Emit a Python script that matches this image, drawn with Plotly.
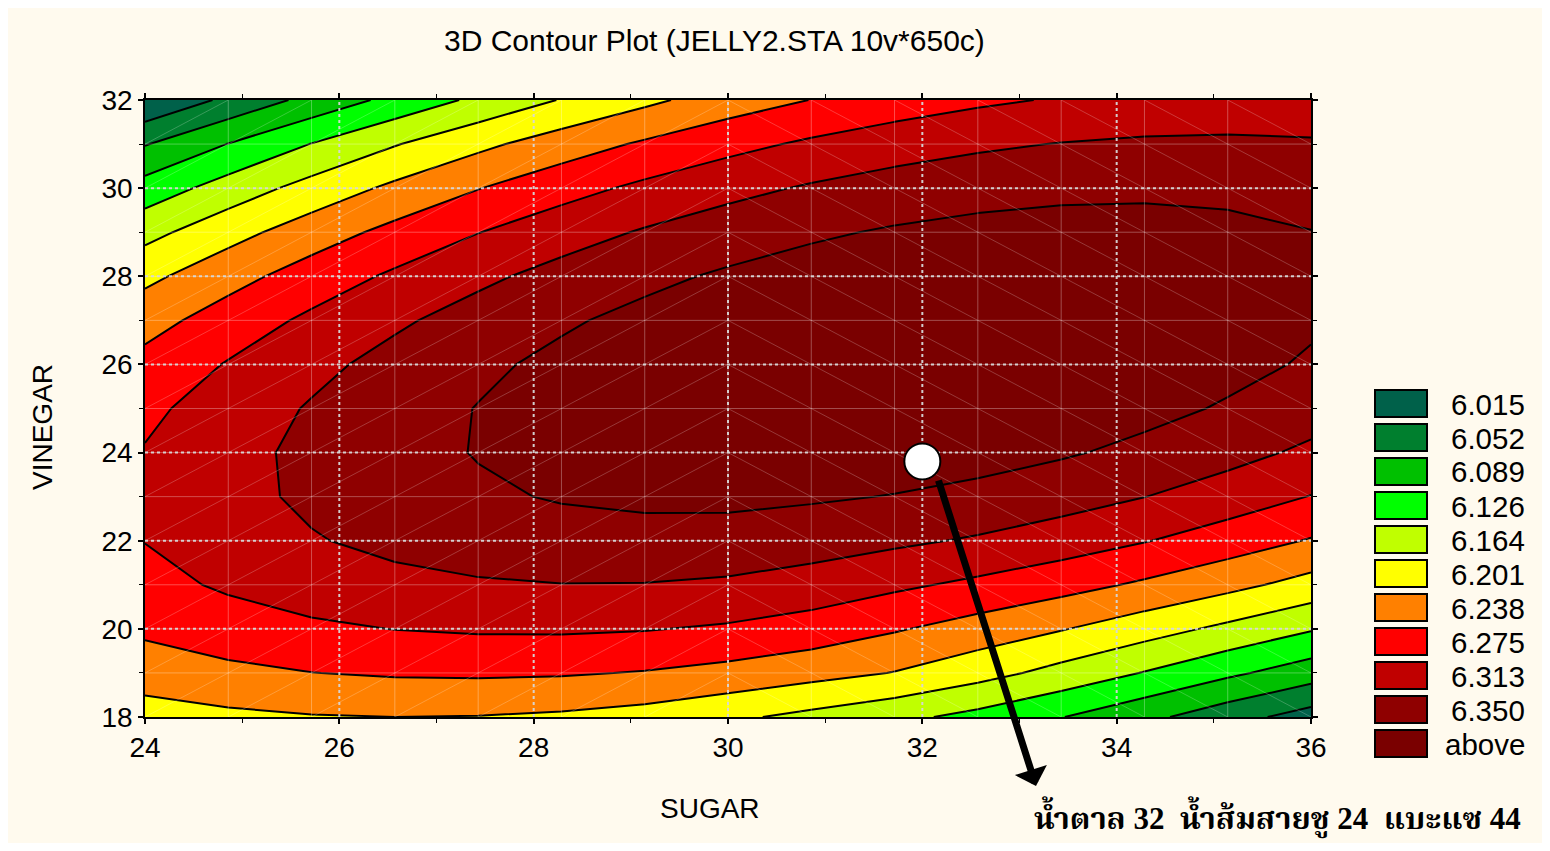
import plotly.graph_objects as go

# ---------------- data ----------------
sugar = [24, 24.857, 25.714, 26.571, 27.429, 28.286, 29.143, 30,
         30.857, 31.714, 32.571, 33.429, 34.286, 35.143, 36]
vinegar = [18, 19, 20, 21, 22, 23, 24, 25, 26, 27, 28, 29, 30, 31, 32]

# response (rows = vinegar 18..32, columns = sugar grid)
z_rows = [
    [6.1848, 6.1935, 6.1990, 6.2012, 6.2000, 6.1956, 6.1870, 6.1710, 6.1544, 6.1367, 6.1158, 6.0909, 6.0623, 6.0301, 5.9990],
    [6.2188, 6.2300, 6.2380, 6.2425, 6.2438, 6.2419, 6.2365, 6.2270, 6.2140, 6.2000, 6.1780, 6.1520, 6.1250, 6.0970, 6.0700],
    [6.2454, 6.2591, 6.2695, 6.2765, 6.2802, 6.2807, 6.2778, 6.2710, 6.2600, 6.2420, 6.2230, 6.2035, 6.1800, 6.1555, 6.1300],
    [6.2647, 6.2808, 6.2936, 6.3031, 6.3092, 6.3122, 6.3117, 6.3075, 6.2970, 6.2827, 6.2680, 6.2520, 6.2330, 6.2120, 6.1880],
    [6.2765, 6.2950, 6.3103, 6.3222, 6.3308, 6.3362, 6.3382, 6.3365, 6.3300, 6.3197, 6.3088, 6.2945, 6.2775, 6.2575, 6.2359],
    [6.2810, 6.3019, 6.3197, 6.3340, 6.3450, 6.3529, 6.3573, 6.3580, 6.3543, 6.3488, 6.3405, 6.3285, 6.3135, 6.2955, 6.2746],
    [6.2780, 6.3014, 6.3216, 6.3384, 6.3519, 6.3621, 6.3690, 6.3726, 6.3730, 6.3700, 6.3638, 6.3542, 6.3414, 6.3252, 6.3058],
    [6.2676, 6.2935, 6.3161, 6.3353, 6.3513, 6.3640, 6.3733, 6.3794, 6.3822, 6.3817, 6.3779, 6.3707, 6.3603, 6.3466, 6.3296],
    [6.2499, 6.2782, 6.3032, 6.3249, 6.3433, 6.3584, 6.3702, 6.3787, 6.3840, 6.3859, 6.3845, 6.3798, 6.3718, 6.3606, 6.3461],
    [6.2247, 6.2554, 6.2830, 6.3071, 6.3279, 6.3455, 6.3597, 6.3706, 6.3783, 6.3827, 6.3838, 6.3815, 6.3760, 6.3671, 6.3551],
    [6.1922, 6.2253, 6.2553, 6.2818, 6.3051, 6.3251, 6.3418, 6.3552, 6.3653, 6.3721, 6.3756, 6.3758, 6.3727, 6.3663, 6.3567],
    [6.1522, 6.1878, 6.2202, 6.2492, 6.2749, 6.2974, 6.3164, 6.3323, 6.3449, 6.3541, 6.3601, 6.3627, 6.3621, 6.3581, 6.3509],
    [6.1048, 6.1429, 6.1777, 6.2092, 6.2373, 6.2622, 6.2837, 6.3020, 6.3171, 6.3288, 6.3372, 6.3422, 6.3440, 6.3425, 6.3378],
    [6.0501, 6.0906, 6.1279, 6.1617, 6.1923, 6.2197, 6.2436, 6.2644, 6.2818, 6.2960, 6.3068, 6.3143, 6.3186, 6.3195, 6.3172],
    [5.9810, 6.0232, 6.0636, 6.1003, 6.1347, 6.1660, 6.1930, 6.2193, 6.2392, 6.2558, 6.2691, 6.2790, 6.2857, 6.2891, 6.2892],
]

level_start = 6.0152
level_step = 0.03722
level_end = 6.3505

legend_labels = ["6.015", "6.052", "6.089", "6.126", "6.164", "6.201",
                 "6.238", "6.275", "6.313", "6.350", "above"]
band_colors = ["#00614A", "#007F2E", "#00C000", "#00FF00", "#C0FF00", "#FFFF00",
               "#FF8000", "#FF0000", "#C00000", "#8F0000", "#7A0000"]

x_ticks = [24, 26, 28, 30, 32, 34, 36]
y_ticks = [18, 20, 22, 24, 26, 28, 30, 32]

point_x = [32]
point_y = [23.8]

title_text = "3D Contour Plot (JELLY2.STA 10v*650c)"
x_title = "SUGAR"
y_title = "VINEGAR"
note_text = "น้ำตาล 32  น้ำส้มสายชู 24  แบะแซ 44"

# ---------------- figure ----------------
BG = "#FFFAEE"
FONT = "Liberation Sans, Arial, sans-serif"

n = len(band_colors)
colorscale = [[i / (n - 1), c] for i, c in enumerate(band_colors)]

fig = go.Figure()
fig.add_trace(go.Contour(
    x=sugar, y=vinegar, z=z_rows,
    autocontour=False,
    contours=dict(start=level_start, end=level_end, size=level_step,
                  coloring="fill", showlines=True),
    colorscale=colorscale, showscale=False,
    line=dict(color="black", width=2, smoothing=0),
    hoverinfo="skip",
))

# faint mesh lines and cell diagonals
x0, x1 = sugar[0], sugar[-1]
y0, y1 = vinegar[0], vinegar[-1]
mx, my = [], []
for xv in sugar[1:-1]:
    mx += [xv, xv, None]
    my += [y0, y1, None]
for yv in vinegar[1:-1]:
    mx += [x0, x1, None]
    my += [yv, yv, None]
fig.add_trace(go.Scatter(x=mx, y=my, mode="lines",
                         line=dict(color="rgba(255,255,255,0.30)", width=1),
                         hoverinfo="skip", showlegend=False))
dx, dy = [], []
for i in range(len(sugar) - 1):
    for j in range(len(vinegar) - 1):
        if sugar[i] < 30:
            dx += [sugar[i], sugar[i + 1], None]
            dy += [vinegar[j], vinegar[j + 1], None]
        else:
            dx += [sugar[i], sugar[i + 1], None]
            dy += [vinegar[j + 1], vinegar[j], None]
fig.add_trace(go.Scatter(x=dx, y=dy, mode="lines",
                         line=dict(color="rgba(255,255,255,0.22)", width=1),
                         hoverinfo="skip", showlegend=False))

# dotted major grid
gx, gy = [], []
for xv in x_ticks[1:-1]:
    gx += [xv, xv, None]
    gy += [y0, y1, None]
for yv in y_ticks[1:-1]:
    gx += [x0, x1, None]
    gy += [yv, yv, None]
fig.add_trace(go.Scatter(x=gx, y=gy, mode="lines",
                         line=dict(color="rgba(215,215,215,0.95)", width=2, dash="dot"),
                         hoverinfo="skip", showlegend=False))

# marker point
fig.add_trace(go.Scatter(x=point_x, y=point_y, mode="markers",
                         marker=dict(size=36, color="white",
                                     line=dict(color="black", width=2)),
                         hoverinfo="skip", showlegend=False, cliponaxis=False))

# page has an 8px body margin; figure sized to fit inside the window
W, H = 1534, 835
L, T = 137, 92
pw, ph = 1166, 617
R, B = W - L - pw, H - T - ph
OFF = 8


def px(xp):
    return (xp - OFF - L) / pw


def py(yp):
    return (T + ph - (yp - OFF)) / ph


shapes = []
annotations = []
# legend boxes
for k, (lab, col) in enumerate(zip(legend_labels, band_colors)):
    top = 390 + k * 34
    shapes.append(dict(type="rect", xref="paper", yref="paper",
                       x0=px(1375), x1=px(1427), y0=py(top + 27), y1=py(top),
                       fillcolor=col, line=dict(color="black", width=2)))
    annotations.append(dict(xref="paper", yref="paper", x=px(1527), y=py(top + 14),
                            text=lab, showarrow=False, xanchor="right", yanchor="middle",
                            font=dict(family=FONT, size=29.5, color="black")))

annotations.append(dict(xref="paper", yref="paper", x=px(714), y=py(40), text=title_text,
                        showarrow=False, xanchor="center", yanchor="middle",
                        font=dict(family=FONT, size=30, color="black")))
annotations.append(dict(xref="paper", yref="paper", x=px(710), y=py(808), text=x_title,
                        showarrow=False, xanchor="center", yanchor="middle",
                        font=dict(family=FONT, size=28, color="black")))
annotations.append(dict(xref="paper", yref="paper", x=px(42), y=py(427), text=y_title,
                        showarrow=False, xanchor="center", yanchor="middle", textangle=-90,
                        font=dict(family=FONT, size=28, color="black")))
annotations.append(dict(xref="paper", yref="paper", x=px(1032), y=py(817),
                        text="<b>" + note_text + "</b>",
                        showarrow=False, xanchor="left", yanchor="middle",
                        font=dict(family="Liberation Serif, Noto Serif Thai, Noto Sans Thai, serif",
                                  size=31, color="black")))
# arrow
annotations.append(dict(xref="paper", yref="paper", x=px(1036), y=py(786),
                        ax=938 - 1036, ay=479 - 786, axref="pixel", ayref="pixel",
                        text="", showarrow=True, arrowhead=1, arrowsize=0.8,
                        arrowwidth=7, arrowcolor="black"))

axis_common = dict(showline=True, mirror="ticks", linecolor="black", linewidth=1.5,
                   ticks="outside", ticklen=5, tickwidth=1.5, tickcolor="black",
                   showgrid=False, zeroline=False,
                   tickfont=dict(family=FONT, size=28, color="black"),
                   minor=dict(ticks="outside", ticklen=4, tickwidth=1.2, dtick=1,
                              tickcolor="black", showgrid=False))

fig.update_layout(
    width=W, height=H, autosize=False,
    margin=dict(l=L, r=R, t=T, b=B),
    paper_bgcolor=BG, plot_bgcolor=BG,
    showlegend=False,
    shapes=shapes, annotations=annotations,
    xaxis=dict(range=[24, 36], tickvals=x_ticks, **axis_common),
    yaxis=dict(range=[18, 32], tickvals=y_ticks, **axis_common),
)

fig.write_html("out.html")
